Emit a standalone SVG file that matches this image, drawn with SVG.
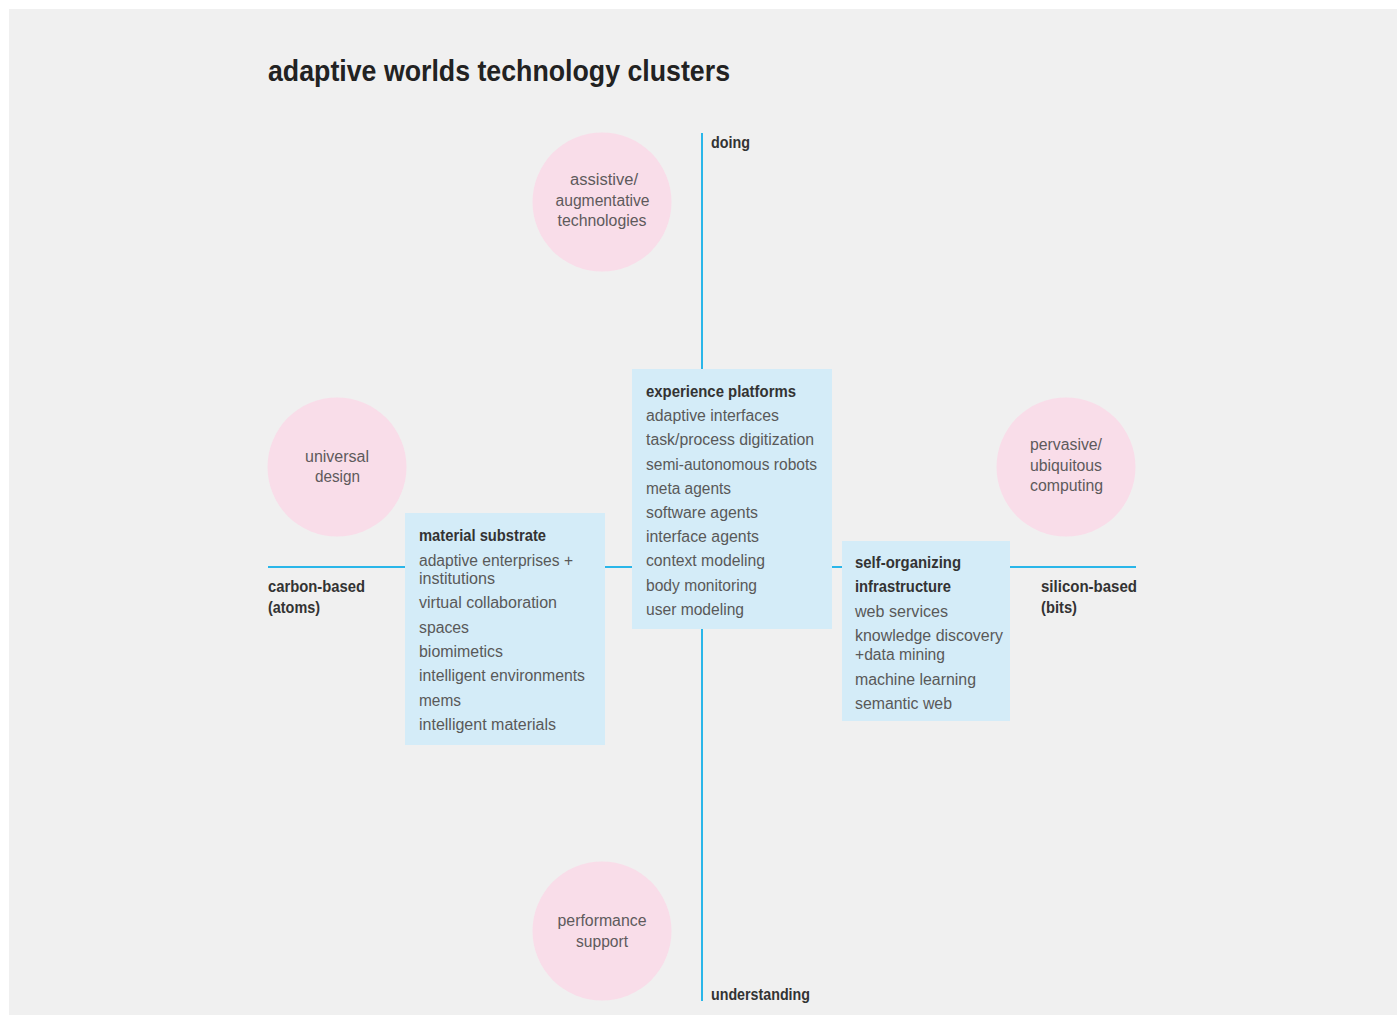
<svg xmlns="http://www.w3.org/2000/svg" width="1397" height="1015" viewBox="0 0 1397 1015">
<style>
text{font-family:"Liberation Sans",Arial,sans-serif;}
.title{font-size:30px;font-weight:bold;fill:#222;}
.axis{stroke:#2ab6e9;stroke-width:2;fill:none;}
.circle{fill:#f9dde9;}
.box{fill:#d4ecf8;}
.head{font-size:16px;font-weight:bold;fill:#333;}
.item{font-size:16px;fill:#595959;}
.lab{font-size:16px;font-weight:bold;fill:#333;}
.ctext{font-size:16px;fill:#5e5a5c;}
</style>
<rect x="0" y="0" width="1397" height="1015" fill="#ffffff"/>
<rect x="9" y="9" width="1388" height="1006" fill="#f0f0f0"/>
<text class="title" x="268" y="81" textLength="462" lengthAdjust="spacingAndGlyphs">adaptive worlds technology clusters</text>

<g id="connectors">
<line class="axis" x1="702" y1="133" x2="702" y2="1001"/>
<line class="axis" x1="268" y1="567" x2="1136" y2="567"/>
</g>

<g id="axis-labels">
<text class="lab" x="711" y="148" textLength="39" lengthAdjust="spacingAndGlyphs">doing</text>
<text class="lab" x="711" y="1000" textLength="99" lengthAdjust="spacingAndGlyphs">understanding</text>
<text class="lab" x="268" y="592" textLength="97" lengthAdjust="spacingAndGlyphs">carbon-based</text>
<text class="lab" x="268" y="613" textLength="52" lengthAdjust="spacingAndGlyphs">(atoms)</text>
<text class="lab" x="1041" y="592" textLength="96" lengthAdjust="spacingAndGlyphs">silicon-based</text>
<text class="lab" x="1041" y="613" textLength="36" lengthAdjust="spacingAndGlyphs">(bits)</text>
</g>

<g id="assistive">
<circle class="circle" cx="602" cy="202" r="69.5"/>
<text class="ctext" x="570" y="185" textLength="68" lengthAdjust="spacingAndGlyphs">assistive/</text>
<text class="ctext" x="555.5" y="206" textLength="94" lengthAdjust="spacingAndGlyphs">augmentative</text>
<text class="ctext" x="557.5" y="226" textLength="89" lengthAdjust="spacingAndGlyphs">technologies</text>
</g>

<g id="universal">
<circle class="circle" cx="337" cy="467" r="69.5"/>
<text class="ctext" x="305" y="462" textLength="64" lengthAdjust="spacingAndGlyphs">universal</text>
<text class="ctext" x="315" y="482" textLength="45" lengthAdjust="spacingAndGlyphs">design</text>
</g>

<g id="pervasive">
<circle class="circle" cx="1066" cy="467" r="69.5"/>
<text class="ctext" x="1030" y="450" textLength="72" lengthAdjust="spacingAndGlyphs">pervasive/</text>
<text class="ctext" x="1030" y="471" textLength="72" lengthAdjust="spacingAndGlyphs">ubiquitous</text>
<text class="ctext" x="1030" y="491" textLength="73" lengthAdjust="spacingAndGlyphs">computing</text>
</g>

<g id="performance">
<circle class="circle" cx="602" cy="931" r="69.5"/>
<text class="ctext" x="557.5" y="926" textLength="89" lengthAdjust="spacingAndGlyphs">performance</text>
<text class="ctext" x="576" y="947" textLength="52" lengthAdjust="spacingAndGlyphs">support</text>
</g>

<g id="experience-platforms">
<rect class="box" x="632" y="369" width="200" height="260"/>
<text class="head" x="646" y="397" textLength="150" lengthAdjust="spacingAndGlyphs">experience platforms</text>
<text class="item" x="646" y="421" textLength="133" lengthAdjust="spacingAndGlyphs">adaptive interfaces</text>
<text class="item" x="646" y="445" textLength="168" lengthAdjust="spacingAndGlyphs">task/process digitization</text>
<text class="item" x="646" y="470" textLength="171" lengthAdjust="spacingAndGlyphs">semi-autonomous robots</text>
<text class="item" x="646" y="494" textLength="85" lengthAdjust="spacingAndGlyphs">meta agents</text>
<text class="item" x="646" y="518" textLength="112" lengthAdjust="spacingAndGlyphs">software agents</text>
<text class="item" x="646" y="542" textLength="113" lengthAdjust="spacingAndGlyphs">interface agents</text>
<text class="item" x="646" y="566" textLength="119" lengthAdjust="spacingAndGlyphs">context modeling</text>
<text class="item" x="646" y="591" textLength="111" lengthAdjust="spacingAndGlyphs">body monitoring</text>
<text class="item" x="646" y="615" textLength="98" lengthAdjust="spacingAndGlyphs">user modeling</text>
</g>

<g id="material-substrate">
<rect class="box" x="405" y="513" width="200" height="232"/>
<text class="head" x="419" y="541" textLength="127" lengthAdjust="spacingAndGlyphs">material substrate</text>
<text class="item" x="419" y="566" textLength="154" lengthAdjust="spacingAndGlyphs">adaptive enterprises +</text>
<text class="item" x="419" y="584" textLength="76" lengthAdjust="spacingAndGlyphs">institutions</text>
<text class="item" x="419" y="608" textLength="138" lengthAdjust="spacingAndGlyphs">virtual collaboration</text>
<text class="item" x="419" y="633" textLength="50" lengthAdjust="spacingAndGlyphs">spaces</text>
<text class="item" x="419" y="657" textLength="84" lengthAdjust="spacingAndGlyphs">biomimetics</text>
<text class="item" x="419" y="681" textLength="166" lengthAdjust="spacingAndGlyphs">intelligent environments</text>
<text class="item" x="419" y="706" textLength="42" lengthAdjust="spacingAndGlyphs">mems</text>
<text class="item" x="419" y="730" textLength="137" lengthAdjust="spacingAndGlyphs">intelligent materials</text>
</g>

<g id="self-organizing-infrastructure">
<rect class="box" x="842" y="541" width="168" height="180"/>
<text class="head" x="855" y="568" textLength="106" lengthAdjust="spacingAndGlyphs">self-organizing</text>
<text class="head" x="855" y="592" textLength="96" lengthAdjust="spacingAndGlyphs">infrastructure</text>
<text class="item" x="855" y="617" textLength="93" lengthAdjust="spacingAndGlyphs">web services</text>
<text class="item" x="855" y="641" textLength="148" lengthAdjust="spacingAndGlyphs">knowledge discovery</text>
<text class="item" x="855" y="660" textLength="90" lengthAdjust="spacingAndGlyphs">+data mining</text>
<text class="item" x="855" y="685" textLength="121" lengthAdjust="spacingAndGlyphs">machine learning</text>
<text class="item" x="855" y="709" textLength="97" lengthAdjust="spacingAndGlyphs">semantic web</text>
</g>
</svg>
